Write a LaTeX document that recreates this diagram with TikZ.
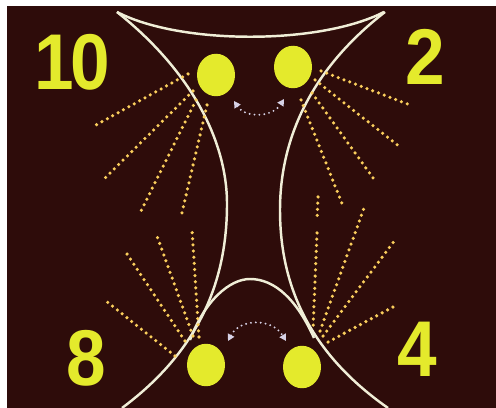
\documentclass[tikz,border=0pt]{standalone}
\usepackage{fontspec}
\newfontfamily\hourfont{Liberation Sans}
\usetikzlibrary{shapes.geometric, arrows.meta}

\definecolor{slide}{RGB}{46,12,10}
\definecolor{lemon}{RGB}{228,234,44}
\definecolor{cream}{RGB}{240,238,215}
\definecolor{gold}{RGB}{250,206,92}
\definecolor{lilac}{RGB}{215,210,230}

\begin{document}
\begin{tikzpicture}[
    x=0.02cm, y=-0.02cm,
    frame/.style={draw=cream, line width=1.4pt},
    ray/.style={draw=gold, line width=2pt, line cap=round, dash pattern=on 0pt off 3.5pt},
    swing/.style={draw=lilac, line width=1.2pt, line cap=round, dash pattern=on 0pt off 2.8pt, {Triangle[length=3.8pt,width=4pt]}-{Triangle[length=3.8pt,width=4pt]}},
    ball/.style={ellipse, fill=lemon, inner sep=0pt, minimum width=0.76cm, minimum height=0.85cm},
    hour/.style={text=lemon, inner sep=0pt, xscale=0.9, font=\hourfont\bfseries\fontsize{45}{45}\selectfont}
]

% Slide background
\useasboundingbox (0,0) rectangle (496,408);
\fill[white] (0,0) rectangle (496,408);
\fill[slide] (7,6) rectangle (496,408);

% Clock positions
\node[hour] (h10) at (72,62)  {1\kern-0.05em0};
\node[hour] (h2)  at (425,57) {2};
\node[hour] (h8)  at (86,358) {8};
\node[hour] (h4)  at (417,349) {4};

% Outline curves
\draw[frame] (117,12) .. controls (180,45) and (320,45) .. (384,12);
\draw[frame] (117,12) .. controls (190,70) and (227,140) .. (227,204)
                      .. controls (227,280) and (200,350) .. (122,408);
\draw[frame] (385,12) .. controls (310,70) and (280,140) .. (280,210)
                      .. controls (280,280) and (305,350) .. (388,408);
\draw[frame] (190,340) .. controls (205,300) and (230,279) .. (250,279)
                       .. controls (275,279) and (297,300) .. (314,338);

% Balls
\node[ball] (bTL) at (216,75)  {};
\node[ball] (bTR) at (293,67)  {};
\node[ball] (bBL) at (206,365) {};
\node[ball] (bBR) at (302,367) {};

% Rays near 10
\draw[ray] (188,74)  -- (96,125);
\draw[ray] (193,91)  -- (103,180);
\draw[ray] (196,100) -- (141,211);
\draw[ray] (207,105) -- (181,217);

% Rays near 2
\draw[ray] (321,71)  -- (410,105);
\draw[ray] (315,80)  -- (400,147);
\draw[ray] (312,93)  -- (376,182);
\draw[ray] (301,100) -- (343,206);

% Rays near 8
\draw[ray] (175,356) -- (106,301);
\draw[ray] (185,341) -- (125,251);
\draw[ray] (193,336) -- (157,236);
\draw[ray] (199,337) -- (192,230);

% Rays near 4
\draw[ray] (318,197) -- (317,221);
\draw[ray] (317,233) -- (313,330);
\draw[ray] (320,331) -- (364,208);
\draw[ray] (323,336) -- (395,240);
\draw[ray] (328,342) -- (393,307);

% Swing arrows
\draw[swing] (234,101) .. controls (245,118) and (272,118) .. (284,99);
\draw[swing] (228,341) .. controls (240,318) and (272,318) .. (286,341);

\end{tikzpicture}
\end{document}
